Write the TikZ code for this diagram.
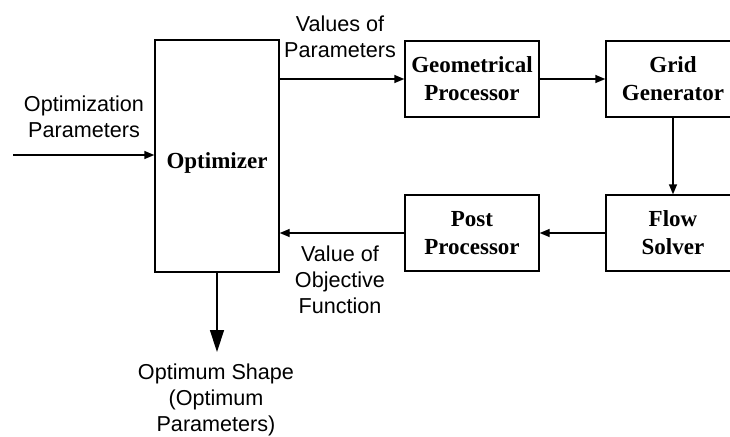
\documentclass[tikz,border=0pt]{standalone}
\usepackage{fontspec}
\setmainfont{Liberation Serif}
\setsansfont{Liberation Sans}
\usetikzlibrary{arrows.meta}
\usetikzlibrary{positioning}

\begin{document}
\begin{tikzpicture}[x=0.5pt,y=-0.5pt,line width=0.7pt,
  block/.style={draw=black,rectangle,align=center,inner sep=0pt,font=\fontsize{11.5}{14}\selectfont\bfseries},
  lbl/.style={align=center,inner sep=0pt,font=\sffamily\fontsize{10.8}{13}\selectfont},
  flow/.style={-{Triangle[length=5pt,width=4pt]}},
  bigflow/.style={-{Triangle[length=11pt,width=7pt]}}]
\useasboundingbox (0,0) rectangle (730,436);
\clip (0,0) rectangle (730,436);

% blocks
\node[block,minimum width=62pt,minimum height=116pt] (opt) at (217,156) {};
\node[font=\fontsize{11.5}{14}\selectfont\bfseries] (optname) at (217,163) {Optimizer};
\node[block,minimum width=67pt,minimum height=38pt] (geo) at (472,79) {Geometrical\\Processor};
\node[block,minimum width=67pt,minimum height=38pt] (grid) at (673,79) {Grid\\Generator};
\node[block,minimum width=67pt,minimum height=38pt] (solver) at (673,233) {Flow\\Solver};
\node[block,minimum width=67pt,minimum height=38pt] (post) at (472,233) {Post\\Processor};

% labels
\node[lbl] (inlbl) at (84,117) {Optimization\\Parameters};
\node[lbl] (vallbl) at (340,37) {Values of\\Parameters};
\node[lbl] (objlbl) at (340,280) {Value of\\Objective\\Function};
\node[lbl] (outlbl) at (216,400) {Optimum Shape\\(Optimum\\Parameters)};
\coordinate (instart) at (13,155);
\coordinate (outend) at (217,352);

% connectors
\draw[flow] (instart) -- (instart -| opt.west);
\draw[flow] (opt.east |- geo.west) -- (geo.west);
\draw[flow] (geo) -- (grid);
\draw[flow] (grid) -- (solver);
\draw[flow] (solver) -- (post);
\draw[flow] (post.west) -- (post.west -| opt.east);
\draw[bigflow] (opt.south) -- (outend);
\end{tikzpicture}
\end{document}
